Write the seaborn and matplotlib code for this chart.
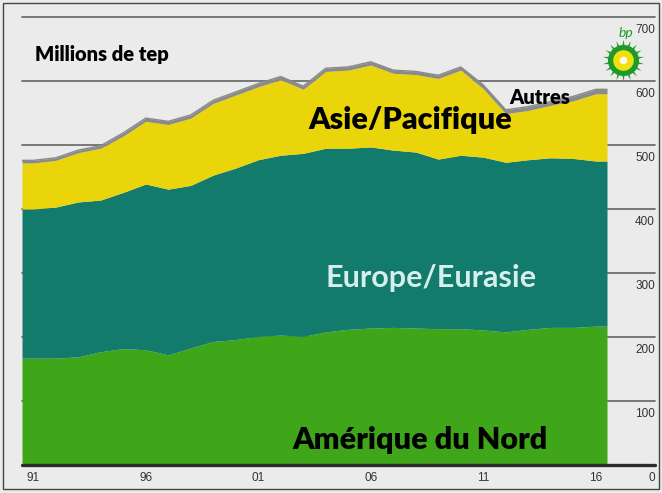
import numpy as np
import pandas as pd
import matplotlib
matplotlib.use("Agg")
import matplotlib.pyplot as plt
import seaborn as sns
from matplotlib.patches import Rectangle

# ------------------------------------------------------------------ #
# Consommation par région (Millions de tep)
years = np.arange(1991, 2017)
amerique_nord = [167, 167, 169, 177, 182, 180, 172, 183, 193, 196, 201, 203, 201,
                 208, 212, 214, 215, 214, 213, 213, 211, 208, 212, 215, 215, 217]
europe_eurasie = [233, 236, 242, 237, 244, 259, 259, 254, 260, 268, 276, 281, 286,
                  287, 283, 283, 277, 275, 265, 271, 270, 265, 265, 265, 264, 258]
asie_pacifique = [72, 73, 77, 81, 88, 98, 101, 105, 112, 114, 114, 118, 100,
                  120, 122, 128, 120, 121, 126, 133, 107, 76, 77, 82, 90, 105]
autres = [4, 4, 4, 4, 5, 5, 5, 5, 5, 5, 5, 5, 5,
          5, 5, 5, 5, 5, 5, 5, 6, 6, 6, 6, 7, 7]
y_ticks = [0, 100, 200, 300, 400, 500, 600, 700]
x_ticks = [1991, 1996, 2001, 2006, 2011, 2016]
x_labels = ["91", "96", "01", "06", "11", "16"]
# ------------------------------------------------------------------ #

BG = "#ebebeb"
C_NA = "#3fa519"
C_EU = "#137b6b"
C_AS = "#ead50b"
C_OT = "#8a8a8a"

sns.set_theme(style="white", rc={"axes.facecolor": BG, "figure.facecolor": BG})
plt.rcParams["font.family"] = ["Lato", "DejaVu Sans"]
NARROW = ["Liberation Sans Narrow", "Liberation Sans", "DejaVu Sans"]

df = pd.DataFrame({"annee": years, "na": amerique_nord, "eu": europe_eurasie,
                   "as": asie_pacifique, "ot": autres})
# chaque année occupe une case : on prolonge d'une demi-année aux bords
edges = pd.concat([df.iloc[[0]].assign(annee=years[0] - 0.5), df,
                   df.iloc[[-1]].assign(annee=years[-1] + 0.5)], ignore_index=True)
c1 = edges["na"]
c2 = c1 + edges["eu"]
c3 = c2 + edges["as"]
c4 = c3 + edges["ot"]
edges["total"] = c4

fig = plt.figure(figsize=(6.62, 4.93), dpi=100)
ax = fig.add_axes([22 / 662, 28 / 493, 633 / 662, 448 / 493])

for v in y_ticks[1:]:
    ax.axhline(v, color="#6e6e6e", lw=1.3, zorder=0, clip_on=False)

x = edges["annee"]
ax.fill_between(x, 0, c1, color=C_NA, lw=0, zorder=2)
ax.fill_between(x, c1, c2, color=C_EU, lw=0, zorder=2)
ax.fill_between(x, c2, c3, color=C_AS, lw=0, zorder=2)
ax.fill_between(x, c3, c4, color=C_OT, lw=0, zorder=2)
sns.lineplot(data=edges, x="annee", y="total", color=C_OT, lw=1.0, ax=ax,
             zorder=3, estimator=None)

ax.axhline(0, color="#2b2b2b", lw=2.4, zorder=4, clip_on=False)

ax.set_xlim(years[0] - 0.5, years[0] - 0.5 + 633 / 22.5)
ax.set_ylim(0, 700)
ax.set_xticks(x_ticks)
ax.set_xticklabels(x_labels, family=NARROW, fontsize=8.5, color="#333333")
ax.tick_params(axis="x", length=0, pad=5)
ax.set_yticks([])
ax.set_xlabel("")
ax.set_ylabel("")
for s in ax.spines.values():
    s.set_visible(False)

for v in y_ticks:
    ax.annotate(str(v), xy=(1.0, v), xycoords=("axes fraction", "data"),
                xytext=(0, -5), textcoords="offset points", ha="right", va="top",
                family=NARROW, fontsize=8.5, color="#333333", zorder=5)

ax.text(0.0205, 0.917, "Millions de tep", transform=ax.transAxes, fontsize=14.5,
        fontweight="heavy", color="black", va="center", ha="left")
ax.text(2007.75, 539, "Asie/Pacifique", fontsize=22, fontweight="heavy",
        color="black", ha="center", va="center", zorder=5)
ax.text(2013.5, 575, "Autres", fontsize=14.5, fontweight="heavy",
        color="black", ha="center", va="center", zorder=5)
ax.text(2008.7, 292, "Europe/Eurasie", fontsize=22, fontweight="bold",
        color="#d6efee", ha="center", va="center", zorder=5)
ax.text(2008.2, 39, "Amérique du Nord", fontsize=22, fontweight="heavy",
        color="black", ha="center", va="center", zorder=5)

# logo bp
lax = fig.add_axes([598 / 662, 1 - 85 / 493, 50 / 662, 50 / 493])
lax.set_xlim(-1, 1)
lax.set_ylim(-1, 1)
lax.axis("off")
lax.scatter([0], [0], s=900, marker=(18, 1, 0), color="#1f9a2a", lw=0)
lax.scatter([0], [0], s=500, marker="o", color="#1f9a2a", lw=0)
lax.scatter([0], [0], s=220, marker="o", color="#f0e00e", lw=0)
lax.scatter([0], [0], s=30, marker="o", color="#fdfbe6", lw=0)
fig.text(626 / 662, 1 - 33 / 493, "bp", fontsize=10, color="#1f9a2a",
         ha="center", va="center", style="italic")

fig.add_artist(Rectangle((3 / 662, 4 / 493), 656 / 662, 486 / 493,
                         transform=fig.transFigure, fill=False,
                         edgecolor="#444444", lw=1.0))

fig.savefig("out.png", dpi=100)
